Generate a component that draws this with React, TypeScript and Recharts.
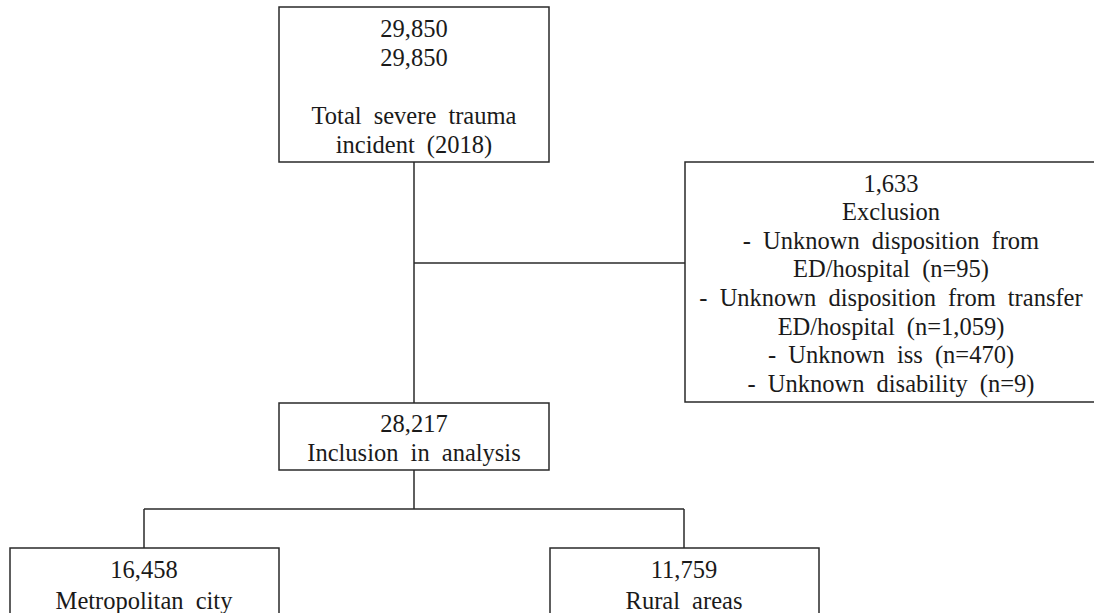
import React from "react";
import { ScatterChart, Scatter, XAxis, YAxis, ReferenceArea, ReferenceLine } from "recharts";

// ---- content (values & labels) ----
const topLines = ["29,850", "29,850", "", "Total severe trauma", "incident (2018)"];
const exclusionLines = [
  "1,633",
  "Exclusion",
  "- Unknown disposition from",
  "ED/hospital (n=95)",
  "- Unknown disposition from transfer",
  "ED/hospital (n=1,059)",
  "- Unknown iss (n=470)",
  "- Unknown disability (n=9)",
];
const inclusionLines = ["28,217", "Inclusion in analysis"];
const metroLines = ["16,458", "Metropolitan city"];
const ruralLines = ["11,759", "Rural areas"];

// ---- layout (chart units = page pixels) ----
const W = 1094;
const H = 613;
const boxLayout = [
  { x1: 279, x2: 549, y1: 7, y2: 162, cx: 414, firstY: 28, step: 29, lines: topLines },
  { x1: 685, x2: 1097, y1: 162, y2: 402, cx: 891, firstY: 183, step: 28.6, lines: exclusionLines },
  { x1: 279, x2: 549, y1: 403, y2: 470, cx: 414, firstY: 423, step: 29, lines: inclusionLines },
  { x1: 10, x2: 279, y1: 548, y2: 660, cx: 144, firstY: 569, step: 31, lines: metroLines },
  { x1: 550, x2: 819, y1: 548, y2: 660, cx: 684, firstY: 569, step: 31, lines: ruralLines },
];
const connectors = [
  [{ x: 414, y: 162 }, { x: 414, y: 403 }],
  [{ x: 414, y: 263 }, { x: 685, y: 263 }],
  [{ x: 414, y: 470 }, { x: 414, y: 509 }],
  [{ x: 144, y: 509 }, { x: 684, y: 509 }],
  [{ x: 144, y: 509 }, { x: 144, y: 548 }],
  [{ x: 684, y: 509 }, { x: 684, y: 548 }],
];

const textPoints = boxLayout.flatMap((b) =>
  b.lines.map((t, i) => ({ x: b.cx, y: b.firstY + i * b.step, text: t }))
);

const STROKE = "#2a2a2a";

const TextShape = (props: any) => {
  const { cx, cy, payload } = props;
  if (!payload || !payload.text) return <g />;
  return (
    <text
      x={cx}
      y={cy}
      textAnchor="middle"
      dominantBaseline="central"
      fill="#1a1a1a"
      style={{ fontFamily: "'Liberation Serif', 'Times New Roman', 'DejaVu Serif', serif", fontSize: "24.5px", wordSpacing: "6px" }}
    >
      {payload.text}
    </text>
  );
};

export default function App() {
  return (
    <div style={{ position: "absolute", left: 0, top: 0, width: W, height: H, background: "#fff" }}>
      <ScatterChart width={W} height={H} margin={{ top: 0, right: 0, bottom: 0, left: 0 }}>
        <XAxis type="number" dataKey="x" domain={[0, W]} hide allowDataOverflow />
        <YAxis type="number" dataKey="y" domain={[0, H]} reversed hide allowDataOverflow />
        {connectors.map((seg, i) => (
          <ReferenceLine key={"c" + i} segment={seg} stroke={STROKE} strokeWidth={1.5} ifOverflow="visible" />
        ))}
        {boxLayout.map((b, i) => (
          <ReferenceArea
            key={"b" + i}
            x1={b.x1}
            x2={b.x2}
            y1={b.y1}
            y2={b.y2}
            fill="#fff"
            fillOpacity={1}
            stroke={STROKE}
            strokeWidth={1.5}
            ifOverflow="visible"
          />
        ))}
        <Scatter data={textPoints} shape={TextShape} isAnimationActive={false} />
      </ScatterChart>
    </div>
  );
}
